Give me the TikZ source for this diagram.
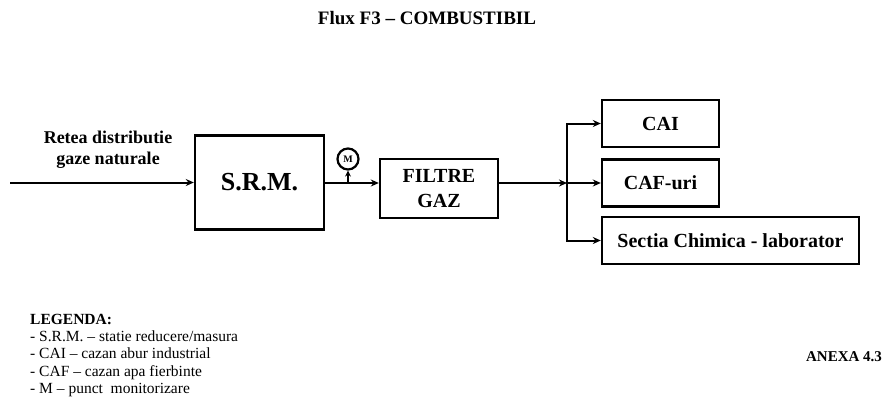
\documentclass[tikz,border=0pt]{standalone}
\usepackage{fontspec}
\setmainfont{Liberation Serif}
\usetikzlibrary{positioning, arrows.meta}
\frenchspacing

\begin{document}
\begin{tikzpicture}[
    x=1bp, y=-1bp,
    every node/.style={inner sep=0pt},
    box/.style={draw, line width=2.4bp, align=center,
                font=\fontsize{20bp}{25bp}\selectfont\bfseries},
    flow/.style={line width=2bp, -{Stealth[length=8bp, width=7bp]}},
  ]
  \useasboundingbox (0,0) rectangle (884,399);

  \node[font=\fontsize{19bp}{23bp}\selectfont\bfseries] (title) at (427,18) {Flux F3 – COMBUSTIBIL};

  % blocks
  \node[box, minimum width=129bp, minimum height=94bp,
        font=\fontsize{26bp}{30bp}\selectfont\bfseries] (srm) at (259.5,182.5) {S.R.M.};
  \node[box, minimum width=118bp, minimum height=59bp] (filtre) at (439,188.5) {FILTRE\\GAZ};
  \node[box, minimum width=117bp, minimum height=47bp] (cai)    at (660.5,123.5) {CAI};
  \node[box, minimum width=117bp, minimum height=47bp] (caf)    at (660.5,183)   {CAF-uri};
  \node[box, minimum width=257bp, minimum height=47bp] (sectia) at (730.5,240.5) {Sectia Chimica - laborator};

  \node[circle, draw, line width=2.2bp, minimum size=21bp,
        font=\fontsize{10bp}{11bp}\selectfont\bfseries] (mon) at (348,159) {M};

  \node[align=center, font=\fontsize{18bp}{21bp}\selectfont\bfseries] (retea) at (108,150)
    {Retea distributie\\gaze naturale};

  \coordinate (src) at (10,182.5);
  \coordinate (jn)  at (567,183);

  \draw[flow] (src) -- (srm);
  \draw[flow] (srm.east |- jn) -- (filtre.west |- jn);
  \draw[line width=2bp, -{Stealth[length=6bp, width=6bp]}] (mon |- jn) -- (mon);
  \draw[flow] (filtre.east |- jn) -- (jn);
  \draw[flow] (jn) -- (caf.west |- jn);
  \draw[flow] (jn) |- (cai);
  \draw[flow] (jn) |- (sectia);

  % legend
  \node[anchor=north west, align=left, font=\fontsize{15.5bp}{17.2bp}\selectfont] (legenda) at (30,314)
    {\textbf{LEGENDA:}\\
     - S.R.M. – statie reducere/masura\\
     - CAI – cazan abur industrial\\
     - CAF – cazan apa fierbinte\\
     - M – punct~ monitorizare};
  \node[font=\fontsize{15bp}{18bp}\selectfont\bfseries] (anexa) at (844,357) {ANEXA 4.3};
\end{tikzpicture}
\end{document}
